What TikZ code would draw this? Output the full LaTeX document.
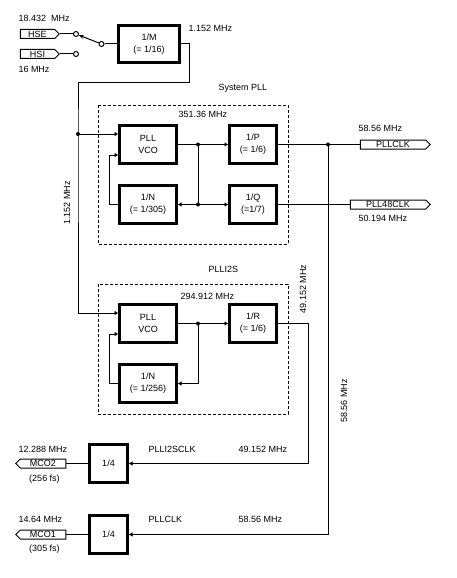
\documentclass[tikz,border=0pt]{standalone}
\usepackage{fontspec}
\setmainfont{Liberation Sans}
\usetikzlibrary{arrows.meta,shapes.symbols,calc}
\begin{document}
\begin{tikzpicture}[x=1pt,y=-1pt,
  font=\fontsize{9}{12}\selectfont,
  line width=1pt,
  >={Triangle[length=3.5pt,width=4pt]},
  blk/.style={draw,line width=3pt,inner sep=0pt,align=center,minimum height=38pt,minimum width=#1},
  sig/.style={draw,line width=1pt,signal,signal to=#1,inner sep=0pt,minimum height=9pt},
  dot/.style={circle,fill,inner sep=0pt,minimum size=4pt},
  port/.style={circle,draw,fill=white,inner sep=0pt,minimum size=5pt},
  lbl/.style={inner sep=0pt,anchor=west},
  vlbl/.style={inner sep=0pt,rotate=90},
  frame/.style={draw,dash pattern=on 3pt off 2pt,line width=1pt}
]
\useasboundingbox (0,0) rectangle (456,578);

% sources
\node[sig=east,minimum width=39pt] (hse) at (37.5,34) {HSE};
\node[sig=east,minimum width=39pt] (hsi) at (37.5,54) {HSI};
\node[port] (hsec) at (76,34) {};
\node[port] (hsic) at (76,54) {};
\node[port] (sw) at (101.5,44) {};
\node[lbl] (l18) at (18,18) {18.432\ \ MHz};
\node[lbl] (l16) at (18,69) {16 MHz};

\node[blk=61pt,minimum height=37pt] (m) at (149,44) {1/M\\(= 1/16)};
\node[lbl] (l1152) at (188,28) {1.152 MHz};

\draw (hse.east) -- (hsec);
\draw (hsi.east) -- (hsic);
\draw[-{Stealth[length=5pt,width=4pt]}] (sw) -- (hsec);
\draw (sw) -- (m.west);

% System PLL
\node[lbl] (lsys) at (218,88) {System PLL};
\draw[frame] (98,105) rectangle (288,244);
\node[lbl] (l351) at (178,114) {351.36 MHz};
\node[blk=57pt] (vco1) at (148,144.5) {PLL\\VCO};
\node[blk=47pt] (p) at (253,144.5) {1/P\\(= 1/6)};
\node[blk=57pt] (n1) at (148,204.5) {1/N\\(= 1/305)};
\node[blk=47pt] (q) at (253,204.5) {1/Q\\(=1/7)};

\node[sig=east,minimum width=70pt] (pllclk) at (393,144.5) {PLLCLK};
\node[sig=east,minimum width=80pt] (pll48) at (388,204.5) {PLL48CLK};
\node[lbl] (l5856a) at (358,128) {58.56 MHz};
\node[lbl] (l50194) at (358,218) {50.194 MHz};

% PLLI2S
\node[lbl] (li2s) at (208,269) {PLLI2S};
\draw[frame] (98,284) rectangle (288,414);
\node[lbl] (l294) at (180,296) {294.912 MHz};
\node[blk=57pt] (vco2) at (148,323.5) {PLL\\VCO};
\node[blk=47pt] (r) at (253,323.5) {1/R\\(= 1/6)};
\node[blk=57pt] (n2) at (148,383.5) {1/N\\(= 1/256)};

% MCO
\node[blk=38pt] (diva) at (108.5,463.5) {1/4};
\node[blk=38pt] (divb) at (108.5,534.5) {1/4};
\node[sig=west,minimum width=50pt] (mco2) at (43,463.5) {MCO2};
\node[sig=west,minimum width=50pt] (mco1) at (43,534.5) {MCO1};
\node[lbl] (l12288) at (18,449) {12.288 MHz};
\node[inner sep=0pt] (l256) at (44.5,479) {(256 fs)};
\node[lbl] (l1464) at (18,519) {14.64 MHz};
\node[inner sep=0pt] (l305) at (44.5,549) {(305 fs)};
\node[lbl] (li2sclk) at (148,449) {PLLI2SCLK};
\node[lbl] (l49a) at (238,449) {49.152 MHz};
\node[lbl] (lpllclk) at (148,519) {PLLCLK};
\node[lbl] (l5856b) at (238,519) {58.56 MHz};

% rotated labels
\node[vlbl] (v1152) at (67,203) {1.152 MHz};
\node[vlbl] (v49) at (303,289) {49.152 MHz};
\node[vlbl] (v5856) at (344,401) {58.56 MHz};

% dots and coordinates
\node[dot] (d0) at (78,134) {};
\node[dot] (d1) at (198,144.5) {};
\node[dot] (d2) at (198,204.5) {};
\node[dot] (d3) at (328,144.5) {};
\node[dot] (d4) at (198,323.5) {};
\coordinate (t1) at (189,44);
\coordinate (t2) at (189,82);
\coordinate (t3) at (78,82);
\coordinate (c4) at (78,313);
\coordinate (f1) at (109,155);
\coordinate (f2) at (109,334);
\coordinate (r1) at (308,323.5);

% connectors
\draw (m.east) -- (t1) -- (t2) -- (t3) -- (d0.center) -- (c4);
\draw[->] (d0.center) -- (d0 -| vco1.west);
\draw[->] (c4) -- (c4 -| vco2.west);
\draw[->] (n1.west) -| (f1) -- (f1 -| vco1.west);
\draw (vco1.east) -- (d1.center);
\draw[->] (d1.center) -- (p.west);
\draw (d1.center) -- (d2.center);
\draw[->] (d2.center) -- (q.west);
\draw[->] (d2.center) -- (n1.east);
\draw (p.east) -- (pllclk.west);
\draw (q.east) -- (pll48.west);
\draw (vco2.east) -- (d4.center);
\draw[->] (d4.center) -- (r.west);
\draw[->] (d4.center) |- (n2.east);
\draw[->] (n2.west) -| (f2) -- (f2 -| vco2.west);
\draw[->] (r.east) -- (r1) |- (diva.east);
\draw[->] (d3.center) |- (divb.east);
\draw (diva.west) -- (mco2.east);
\draw (divb.west) -- (mco1.east);
\end{tikzpicture}
\end{document}
